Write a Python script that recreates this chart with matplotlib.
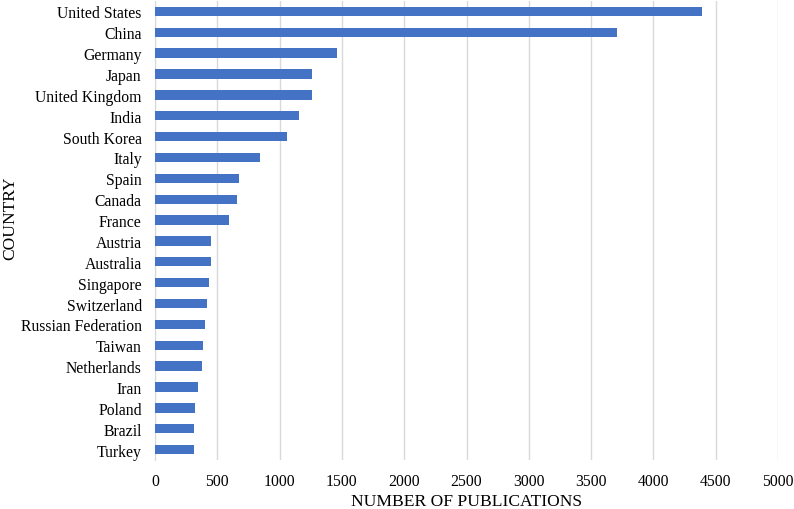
import matplotlib
matplotlib.use("Agg")
import matplotlib.pyplot as plt

countries = ["United States", "China", "Germany", "Japan", "United Kingdom", "India",
             "South Korea", "Italy", "Spain", "Canada", "France", "Austria", "Australia",
             "Singapore", "Switzerland", "Russian Federation", "Taiwan", "Netherlands",
             "Iran", "Poland", "Brazil", "Turkey"]
publications = [4391, 3704, 1463, 1264, 1264, 1156, 1060, 839, 672, 658, 594, 451, 446,
                432, 419, 402, 387, 376, 347, 320, 317, 314]
xticks = [0, 500, 1000, 1500, 2000, 2500, 3000, 3500, 4000, 4500, 5000]

plt.rcParams['font.family'] = ['Liberation Serif', 'DejaVu Serif']

fig = plt.figure(figsize=(7.94, 5.10), dpi=100)
ax = fig.add_axes([155 / 794, 1 - 461 / 510, (778 - 155) / 794, (461 - 2) / 510])

ax.barh(countries, publications, height=0.45, color="#4472C4", zorder=3)
ax.set_ylim(len(countries) - 0.5, -0.5)
ax.set_xlim(0, 5000)
ax.set_xticks(xticks)
ax.grid(axis="x", color="#d9d9d9", linewidth=1, zorder=0)

for s in ["top", "right", "bottom"]:
    ax.spines[s].set_visible(False)
ax.spines["left"].set_color("#d9d9d9")
ax.tick_params(axis="both", length=0, labelsize=11.3, colors="black")
ax.tick_params(axis="x", pad=9.5)
ax.tick_params(axis="y", pad=9.5)

ax.set_xlabel("NUMBER OF PUBLICATIONS", fontsize=12.6)
ax.set_ylabel("COUNTRY", fontsize=12.6)
ax.xaxis.set_label_coords(0.5, -0.072)
ax.yaxis.set_label_coords(-0.22, 0.528)

fig.savefig("out.png", dpi=100)
